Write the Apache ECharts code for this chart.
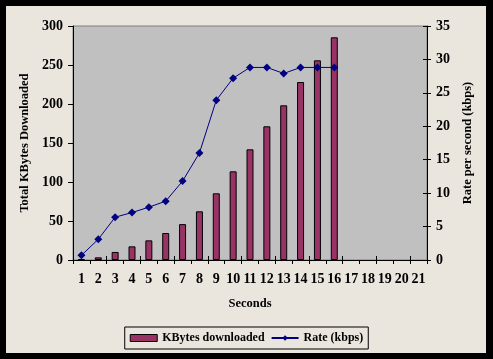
<!DOCTYPE html>
<html><head><meta charset="utf-8">
<script src="https://cdn.jsdelivr.net/npm/echarts@6/dist/echarts.min.js"></script>
<style>html,body{margin:0;padding:0;background:#000;}#c{width:493px;height:359px;}</style>
</head><body><div id="c"></div>
<script>
var seconds = ['1','2','3','4','5','6','7','8','9','10','11','12','13','14','15','16','17','18','19','20','21'];
var kbytesDownloaded = [1.3, 3.4, 10.3, 17.5, 25.2, 34.6, 46, 62.4, 85.5, 113.7, 141.9, 171.4, 198.3, 228.2, 256, 285.5];
var rateKbps = [0.7, 3.1, 6.4, 7.1, 7.9, 8.8, 11.8, 16.0, 23.9, 27.2, 28.8, 28.8, 27.9, 28.8, 28.8, 28.8];

var FONT = 'Liberation Serif';
var txt = {fontFamily: FONT, fontWeight: 'bold', fontSize: 14, color: '#000'};
var ttl = {fontFamily: FONT, fontWeight: 'bold', fontSize: 12.5, color: '#000'};
var chart = echarts.init(document.getElementById('c'), null, {renderer: 'canvas'});
chart.setOption({
  animation: false,
  backgroundColor: '#000',
  graphic: [{type: 'rect', z: -10, shape: {x: 6, y: 6, width: 480, height: 347}, style: {fill: '#EAE6DE'}}],
  grid: {left: 73, right: 66, top: 26, bottom: 99, show: true, backgroundColor: '#C0C0C0', borderColor: '#808080', borderWidth: 1},
  legend: {
    bottom: 10, left: 'center', itemGap: 6, itemWidth: 27, itemHeight: 7,
    borderColor: '#000', borderWidth: 1, padding: [5, 5, 5, 5],
    textStyle: Object.assign({}, ttl, {fontSize: 12}),
    data: [{name: 'KBytes downloaded', icon: 'rect', itemStyle: {borderColor: '#000', borderWidth: 1}}, {name: 'Rate (kbps)'}]
  },
  xAxis: [{
    type: 'category', data: seconds, position: 'bottom',
    name: 'Seconds', nameLocation: 'middle', nameGap: 37, nameTextStyle: ttl,
    axisLine: {lineStyle: {color: '#000', width: 1}},
    axisTick: {show: true, inside: false, length: 4, lineStyle: {color: '#000'}},
    axisLabel: Object.assign({interval: 0, margin: 12}, txt),
    splitLine: {show: false}
  }, {
    type: 'category', data: seconds, position: 'bottom',
    axisLine: {show: false},
    axisTick: {show: true, inside: true, length: 4, lineStyle: {color: '#000'}},
    axisLabel: {show: false}, splitLine: {show: false}
  }],
  yAxis: [{
    type: 'value', min: 0, max: 300, interval: 50, position: 'left',
    name: 'Total KBytes Downloaded', nameLocation: 'middle', nameGap: 36, nameRotate: 90, nameTextStyle: ttl,
    axisLine: {show: true, lineStyle: {color: '#000'}},
    axisTick: {show: true, length: 5, lineStyle: {color: '#000'}},
    axisLabel: Object.assign({margin: 10}, txt),
    splitLine: {show: false}
  }, {
    type: 'value', min: 0, max: 35, interval: 5, position: 'right',
    name: 'Rate per second (kbps)', nameLocation: 'middle', nameGap: 31, nameRotate: 90, nameTextStyle: ttl,
    axisLine: {show: true, lineStyle: {color: '#000'}},
    axisTick: {show: true, length: 4, lineStyle: {color: '#000'}},
    axisLabel: Object.assign({margin: 9}, txt),
    splitLine: {show: false}
  }, {
    type: 'value', min: 0, max: 35, interval: 5, position: 'right',
    axisLine: {show: false},
    axisTick: {show: true, inside: true, length: 4, lineStyle: {color: '#000'}},
    axisLabel: {show: false}, splitLine: {show: false}
  }],
  series: [{
    name: 'KBytes downloaded', type: 'bar', yAxisIndex: 0, barWidth: 7,
    data: kbytesDownloaded,
    itemStyle: {color: '#993366', borderColor: '#000', borderWidth: 1}
  }, {
    name: 'Rate (kbps)', type: 'line', yAxisIndex: 1,
    data: rateKbps, symbol: 'diamond', symbolSize: 8,
    itemStyle: {color: '#000080'},
    lineStyle: {color: '#000080', width: 1}
  }]
});
</script></body></html>
